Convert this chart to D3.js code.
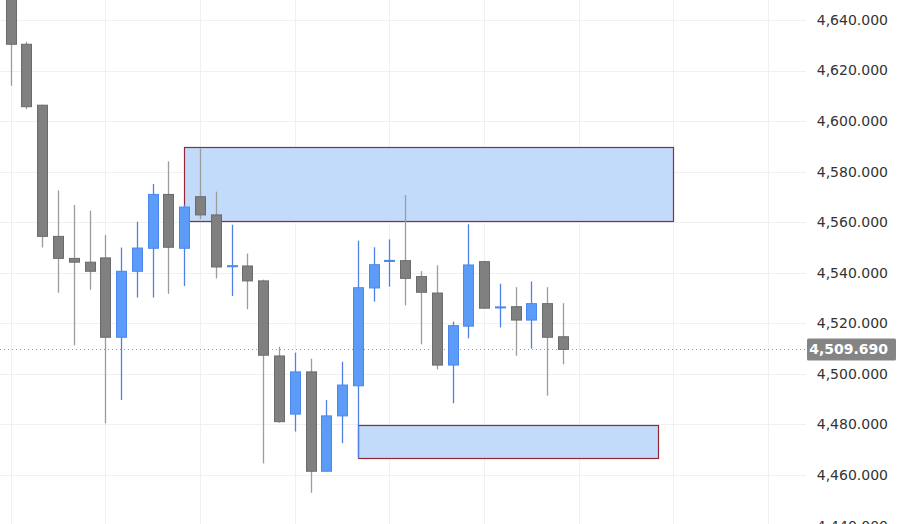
<!DOCTYPE html>
<html>
<head>
<meta charset="utf-8">
<script src="https://cdn.jsdelivr.net/npm/d3@7"></script>
<style>
  html, body { margin: 0; padding: 0; background: #fff; }
  svg { display: block; }
</style>
</head>
<body>
<svg id="chart" width="900" height="524"></svg>
<script>
// ---- data ----
const opens  = [4660, 4630.4, 4606.3, 4554.4, 4545.7, 4544.2, 4545.9, 4514.5, 4540.6, 4549.7,
                4571, 4549.7, 4570.1, 4562.9, 4542.5, 4542.7, 4536.8, 4507.1, 4484.1, 4500.8,
                4461.5, 4483.4, 4495.3, 4534, 4544.5, 4544.8, 4538.5, 4532, 4503.5, 4518.9,
                4544.4, 4526.2, 4526.6, 4521.3, 4527.8, 4514.7];
const highs  = [4662, 4631.4, 4606.5, 4572.6, 4566.8, 4564.6, 4555, 4550, 4560.2, 4575.1,
                4584.1, 4567, 4589.2, 4572.1, 4559, 4547.6, 4537.3, 4510.8, 4508.4, 4506,
                4489.7, 4504.8, 4552.7, 4550.1, 4553.2, 4570.8, 4540.7, 4543, 4520.7, 4559.2,
                4544.7, 4535.7, 4534.3, 4536.6, 4534.3, 4528];
const lows   = [4614, 4604.7, 4550, 4532.1, 4511.3, 4533.3, 4480.5, 4489.7, 4530.2, 4530.2,
                4531.7, 4534.8, 4561.2, 4537.8, 4530.8, 4525.6, 4464.6, 4480.7, 4477.2, 4453,
                4461.5, 4472.6, 4466.6, 4528.6, 4534.5, 4527.1, 4511.7, 4501.8, 4488.4, 4514.1,
                4525.9, 4518.4, 4507.2, 4510, 4491.4, 4503.8];
const closes = [4630.4, 4605.7, 4554.4, 4545.7, 4544.2, 4540.6, 4514.5, 4540.6, 4549.8, 4571,
                4550.1, 4566, 4562.9, 4542.3, 4542.8, 4536.8, 4507.4, 4481.1, 4500.8, 4461.5,
                4483.4, 4495.6, 4534.1, 4543.2, 4544.9, 4537.8, 4532.3, 4503.5, 4519.1, 4543.1,
                4526, 4526.5, 4521.3, 4527.8, 4514.5, 4509.69];
// zones: [startIndex, endIndex, low, high]
const zoneStarts = [11, 22];
const zoneEnds   = [42, 41];
const zoneLows   = [4560.6, 4466.6];
const zoneHighs  = [4589.7, 4479.8];
const priceTicks = [4440, 4460, 4480, 4500, 4520, 4540, 4560, 4580, 4600, 4620, 4640];
const lastPrice = 4509.69;

// ---- layout ----
const W = 900, H = 524, plotRight = 806;
const svg = d3.select("#chart");
const x = d3.scaleLinear().domain([0, 48]).range([10.7, 768.1]);
const y = d3.scaleLinear().domain([4440, 4640]).range([525.6, 20]);
const fmt = d3.format(",.3f");
const bodyW = 10;

const candles = opens.map((o, i) => ({ i, o, h: highs[i], l: lows[i], c: closes[i] }));

// grid
const g = svg.append("g");
g.selectAll("line.h").data(priceTicks).join("line")
  .attr("x1", 0).attr("x2", plotRight)
  .attr("y1", d => Math.round(y(d)) + 0.5).attr("y2", d => Math.round(y(d)) + 0.5)
  .attr("stroke", "#f0f0f0").attr("stroke-width", 1);
g.selectAll("line.v").data(d3.range(0, 49, 6)).join("line")
  .attr("x1", d => Math.round(x(d)) + 0.5).attr("x2", d => Math.round(x(d)) + 0.5)
  .attr("y1", 0).attr("y2", H)
  .attr("stroke", "#f0f0f0").attr("stroke-width", 1);

// zones
svg.append("g").selectAll("rect").data(zoneStarts).join("rect")
  .attr("x", (d, k) => Math.round(x(d)) + 0.5)
  .attr("y", (d, k) => Math.round(y(zoneHighs[k])) + 0.5)
  .attr("width", (d, k) => Math.round(x(zoneEnds[k])) - Math.round(x(d)))
  .attr("height", (d, k) => Math.round(y(zoneLows[k])) - Math.round(y(zoneHighs[k])))
  .attr("fill", "#c2dbfb")
  .attr("stroke", "#962838").attr("stroke-width", 1.2);

// last price dotted line
svg.append("line")
  .attr("x1", 0).attr("x2", plotRight)
  .attr("y1", Math.round(y(lastPrice)) + 0.5).attr("y2", Math.round(y(lastPrice)) + 0.5)
  .attr("stroke", "#9a9a9a").attr("stroke-width", 1).attr("stroke-dasharray", "1,3");

// candles
const cg = svg.append("g");
const up = d => d.c >= d.o;
cg.selectAll("line.wick").data(candles).join("line")
  .attr("x1", d => Math.round(x(d.i)) + 0.5).attr("x2", d => Math.round(x(d.i)) + 0.5)
  .attr("y1", d => y(d.h)).attr("y2", d => y(d.l))
  .attr("stroke", d => up(d) ? "#4f80e6" : "#9c9c9c").attr("stroke-width", 1.3);
cg.selectAll("rect.body").data(candles).join("rect")
  .attr("x", d => Math.round(x(d.i)) - bodyW / 2 + 0.5)
  .attr("y", d => y(Math.max(d.o, d.c)))
  .attr("width", bodyW)
  .attr("height", d => Math.max(1, Math.abs(y(d.o) - y(d.c))))
  .attr("fill", d => up(d) ? "#5c9cf7" : "#808080")
  .attr("stroke", d => up(d) ? "#4a88ee" : "#6b6b6b").attr("stroke-width", 1);

// right axis
const ax = svg.append("g").attr("transform", `translate(${plotRight},0)`);
ax.selectAll("text").data(priceTicks).join("text")
  .attr("x", 82).attr("y", d => y(d)).attr("dy", "0.35em")
  .attr("text-anchor", "end")
  .attr("font-family", "DejaVu Sans, sans-serif").attr("font-size", 14)
  .attr("fill", "#333")
  .text(d => fmt(d));

// last price label
const ly = y(lastPrice);
ax.append("rect").attr("x", 1).attr("y", ly - 11).attr("width", 89).attr("height", 22)
  .attr("rx", 1.5).attr("fill", "#858585");
ax.append("text").attr("x", 82).attr("y", ly).attr("dy", "0.35em")
  .attr("text-anchor", "end")
  .attr("font-family", "DejaVu Sans, sans-serif").attr("font-size", 14)
  .attr("font-weight", 600)
  .attr("fill", "#fff").text(fmt(lastPrice));
</script>
</body>
</html>
